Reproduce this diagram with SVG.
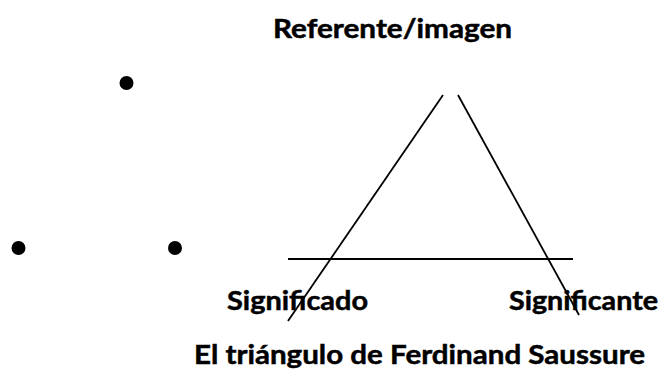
<svg xmlns="http://www.w3.org/2000/svg" width="664" height="370" viewBox="0 0 664 370">
<style>
.t{font-family:Lato,"Open Sans","Liberation Sans",sans-serif;font-weight:bold;font-size:27px;fill:#000;stroke:#000;stroke-width:0.5}
.ln{stroke:#000;stroke-width:1.8;fill:none}
.dot{fill:#000}
</style>
<rect width="664" height="370" fill="#fff"/>
<g id="dots">
<circle class="dot" cx="126.5" cy="83" r="7"/>
<circle class="dot" cx="18.5" cy="248" r="7"/>
<circle class="dot" cx="175" cy="248" r="7"/>
</g>
<g id="connectors">
<line class="ln" x1="443" y1="95" x2="288" y2="321"/>
<line class="ln" x1="458" y1="95" x2="579" y2="315"/>
<line class="ln" x1="288" y1="259" x2="573" y2="259"/>
</g>
<g id="referente"><text class="t" x="273" y="38" textLength="239" lengthAdjust="spacingAndGlyphs">Referente/imagen</text></g>
<g id="significado"><text class="t" x="227" y="310" textLength="141" lengthAdjust="spacingAndGlyphs">Significado</text></g>
<g id="significante"><text class="t" x="509" y="310" textLength="149" lengthAdjust="spacingAndGlyphs">Significante</text></g>
<g id="caption"><text class="t" x="194" y="364" textLength="451" lengthAdjust="spacingAndGlyphs">El triángulo de Ferdinand Saussure</text></g>
</svg>
